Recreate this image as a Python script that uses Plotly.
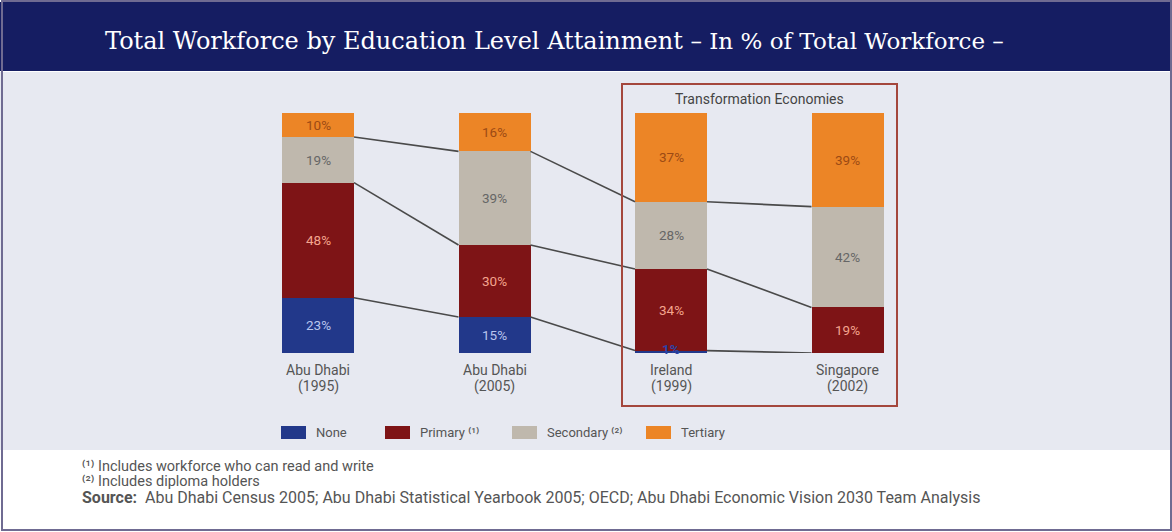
import plotly.graph_objects as go
import numpy as np

W, H = 1172, 532

# ---- data ----
category_names = ["Abu Dhabi", "Abu Dhabi", "Ireland", "Singapore"]
category_years = ["(1995)", "(2005)", "(1999)", "(2002)"]
series_names = ["None", "Primary", "Secondary", "Tertiary"]
legend_labels = ["None", "Primary ⁽¹⁾", "Secondary ⁽²⁾", "Tertiary"]
none_vals = [23, 15, 1, 0]
primary_vals = [48, 30, 34, 19]
secondary_vals = [19, 39, 28, 42]
tertiary_vals = [10, 16, 37, 39]
series_vals = [none_vals, primary_vals, secondary_vals, tertiary_vals]

colors = ["#22388a", "#7e1416", "#bfb8ad", "#ec8526"]
label_colors = ["#b9c5ee", "#f4a58e", "#666666", "#9c4a14"]
FONT = "Roboto, Liberation Sans, sans-serif"

def fx(x):
    return x / W

def fy(y):
    return 1 - y / H

# axis mapping (pixel geometry)
x0_px, step_px, bar_px = 318, 176.5, 72
y_bottom_px, y_top_px = 353, 113
bw = bar_px / step_px
xs = list(range(len(category_names)))

fig = go.Figure()
for name, vals, col in zip(series_names, series_vals, colors):
    fig.add_trace(go.Bar(x=xs, y=vals, name=name, marker=dict(color=col, line=dict(width=0)),
                         width=bw, showlegend=False, hoverinfo="y+name"))

# connecting lines between boundaries
cum = np.cumsum(np.array(series_vals), axis=0)
for k in range(3):
    lx, ly = [], []
    for i in range(len(xs) - 1):
        lx += [xs[i] + bw / 2, xs[i + 1] - bw / 2, None]
        ly += [cum[k][i], cum[k][i + 1], None]
    fig.add_trace(go.Scatter(x=lx, y=ly, mode="lines", line=dict(color="#4a4a4a", width=1.6),
                             showlegend=False, hoverinfo="skip"))

annotations = []
# segment labels
for s, vals in enumerate(series_vals):
    base = cum[s - 1] if s > 0 else np.zeros(len(xs))
    for i, v in enumerate(vals):
        if v <= 0:
            continue
        small = v < 3
        ymid = base[i] + (1.8 if small else v / 2)
        annotations.append(dict(x=xs[i], y=ymid, xref="x", yref="y", yanchor="middle",
                                text=f"<b>{v}%</b>" if small else f"{v}%",
                                showarrow=False,
                                font=dict(family=FONT, size=13.5,
                                          color="#2a44a8" if small else label_colors[s])))

# category labels
for i, (n, yr) in enumerate(zip(category_names, category_years)):
    annotations.append(dict(x=xs[i], y=fy(370), xref="x", yref="paper", yanchor="middle", text=n,
                            showarrow=False, font=dict(family=FONT, size=14, color="#555555")))
    annotations.append(dict(x=xs[i], y=fy(386), xref="x", yref="paper", yanchor="middle", text=yr,
                            showarrow=False, font=dict(family=FONT, size=14, color="#555555")))

# title
annotations.append(dict(x=fx(103), y=fy(41), xref="paper", yref="paper", xanchor="left", yanchor="middle",
                        text="Total Workforce by Education Level Attainment <span style='font-size:23px'>– In % of Total Workforce –</span>",
                        showarrow=False, font=dict(family="DejaVu Serif, Liberation Serif, serif", size=24, color="#ffffff")))

# Transformation Economies
annotations.append(dict(x=fx(759), y=fy(99), xref="paper", yref="paper", yanchor="middle",
                        text="Transformation Economies",
                        showarrow=False, font=dict(family=FONT, size=14, color="#444444")))

shapes = [
    dict(type="rect", xref="paper", yref="paper", x0=0, x1=1, y0=fy(72), y1=fy(450),
         fillcolor="#e7e9f1", line=dict(width=0), layer="below"),
    dict(type="rect", xref="paper", yref="paper", x0=0, x1=1, y0=fy(71), y1=fy(2),
         fillcolor="#151d62", line=dict(width=0), layer="below"),
    dict(type="rect", xref="paper", yref="paper", x0=fx(2), x1=fx(1171), y0=fy(530), y1=fy(1),
         fillcolor="rgba(0,0,0,0)", line=dict(width=2, color="#6f6b92"), layer="above"),
    dict(type="rect", xref="paper", yref="paper", x0=fx(622), x1=fx(897), y0=fy(406), y1=fy(84),
         fillcolor="rgba(0,0,0,0)", line=dict(width=2, color="#a4473d"), layer="above"),
]

# legend (swatches + labels)
legend_x = [281, 385, 512, 646]
for lx, lab, col in zip(legend_x, legend_labels, colors):
    shapes.append(dict(type="rect", xref="paper", yref="paper", x0=fx(lx), x1=fx(lx + 25),
                       y0=fy(439), y1=fy(426), fillcolor=col, line=dict(width=0)))
    annotations.append(dict(x=fx(lx + 33), y=fy(432), xref="paper", yref="paper", xanchor="left",
                            yanchor="middle", text=lab, showarrow=False,
                            font=dict(family=FONT, size=13, color="#555555")))

# footnotes
foot = [
    (466, "⁽¹⁾ Includes workforce who can read and write", 14.5),
    (481, "⁽²⁾ Includes diploma holders", 14.5),
    (497, "<b>Source:</b>  Abu Dhabi Census 2005; Abu Dhabi Statistical Yearbook 2005; OECD; Abu Dhabi Economic Vision 2030 Team Analysis", 16),
]
for y, t, sz in foot:
    annotations.append(dict(x=fx(80), y=fy(y), xref="paper", yref="paper", xanchor="left", yanchor="middle",
                            text=t, showarrow=False, font=dict(family=FONT, size=sz, color="#555555")))

fig.update_layout(
    width=W, height=H, margin=dict(l=0, r=0, t=0, b=0),
    paper_bgcolor="#ffffff", plot_bgcolor="rgba(0,0,0,0)",
    barmode="stack", bargap=0,
    xaxis=dict(range=[-x0_px / step_px, (W - x0_px) / step_px], domain=[0, 1], visible=False, fixedrange=True),
    yaxis=dict(range=[0, 100], domain=[fy(y_bottom_px), fy(y_top_px)], visible=False, fixedrange=True),
    shapes=shapes, annotations=annotations, showlegend=False,
)

fig.write_html("out.html", config={"displayModeBar": False},
               post_script="document.body.style.margin='0';document.body.style.overflow='hidden';")
